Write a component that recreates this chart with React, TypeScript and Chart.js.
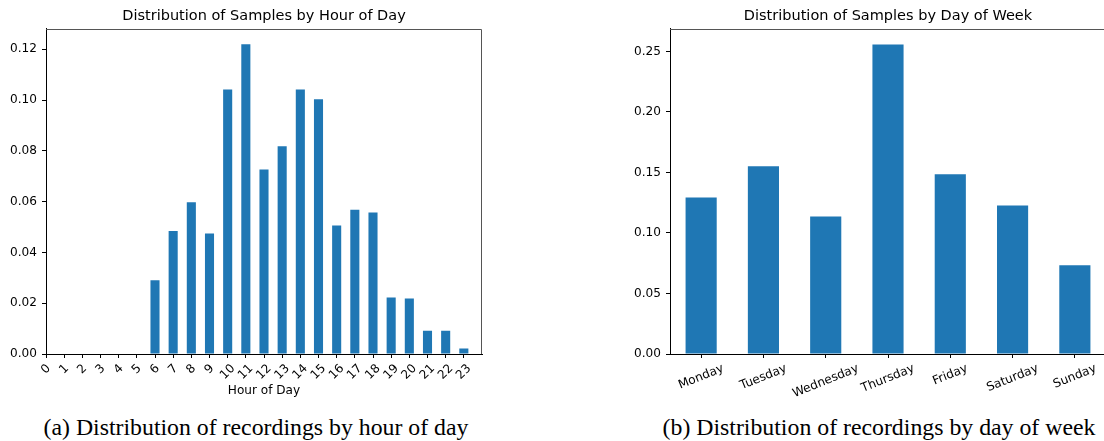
import React, { useEffect, useRef } from 'react';
import { Chart, registerables } from 'chart.js';

Chart.register(...registerables);

// ---- data ----
const hours = [0, 1, 2, 3, 4, 5, 6, 7, 8, 9, 10, 11, 12, 13, 14, 15, 16, 17, 18, 19, 20, 21, 22, 23];
const hourShare = [0, 0, 0, 0, 0, 0, 0.029, 0.0484, 0.0598, 0.0475, 0.1042, 0.122, 0.0727, 0.0818, 0.1042, 0.1003, 0.0506, 0.0568, 0.0557, 0.0223, 0.0219, 0.0092, 0.0092, 0.0022];
const hourYTicks = [0, 0.02, 0.04, 0.06, 0.08, 0.1, 0.12];

const days = ['Monday', 'Tuesday', 'Wednesday', 'Thursday', 'Friday', 'Saturday', 'Sunday'];
const dayShare = [0.1294, 0.1552, 0.1137, 0.2557, 0.1486, 0.1228, 0.0733];
const dayYTicks = [0, 0.05, 0.1, 0.15, 0.2, 0.25];

const hourTitle = 'Distribution of Samples by Hour of Day';
const dayTitle = 'Distribution of Samples by Day of Week';
const hourXTitle = 'Hour of Day';
const captionA = '(a) Distribution of recordings by hour of day';
const captionB = '(b) Distribution of recordings by day of week';

const BLUE = '#1f77b4';
const FONT = '"DejaVu Sans", sans-serif';
const TICK_SIZE = 12.1;
const TITLE_SIZE = 14.5;

function makeXLabels(labels: string[], rotationDeg: number) {
  return {
    id: 'xlabels',
    afterDraw(chart: any) {
      const scale = chart.scales.x;
      const ctx = chart.ctx;
      const f = TICK_SIZE;
      const th = (rotationDeg * Math.PI) / 180;
      const top = chart.chartArea.bottom + 8.4;
      ctx.save();
      ctx.font = `${f}px ${FONT}`;
      ctx.fillStyle = '#000';
      scale.ticks.forEach((_t: any, i: number) => {
        const text = labels[i];
        if (text === undefined) return;
        const x = scale.getPixelForTick(i);
        const w = ctx.measureText(text).width;
        const h = f;
        const H = w * Math.sin(th) + h * Math.cos(th);
        ctx.save();
        ctx.translate(x, top + H / 2);
        ctx.rotate(-th);
        ctx.textAlign = 'center';
        ctx.textBaseline = 'alphabetic';
        ctx.fillText(text, 0, 0.26 * f);
        ctx.restore();
      });
      ctx.restore();
    },
  };
}

const spinesPlugin = {
  id: 'spines',
  afterDraw(chart: any) {
    const { ctx, chartArea: a } = chart;
    ctx.save();
    ctx.strokeStyle = '#555';
    ctx.lineWidth = 1;
    ctx.beginPath();
    const r = Math.round(a.right) - 0.5;
    const t = Math.round(a.top) + 0.5;
    ctx.moveTo(a.left, t);
    ctx.lineTo(r, t);
    ctx.lineTo(r, a.bottom);
    ctx.stroke();
    ctx.restore();
  },
};

function yScale(max: number, ticks: number[], width: number) {
  return {
    min: 0,
    max,
    afterBuildTicks: (s: any) => {
      s.ticks = ticks.map((v) => ({ value: v }));
    },
    ticks: {
      callback: (v: any) => Number(v).toFixed(2),
      font: { family: FONT, size: TICK_SIZE },
      color: '#000',
      padding: 5,
    },
    grid: { drawOnChartArea: false, drawTicks: true, tickLength: 4, color: '#000', lineWidth: 1 },
    border: { display: true, color: '#000', width: 1 },
    afterFit: (s: any) => {
      s.width = width;
    },
  };
}

function titleOpts(text: string) {
  return {
    display: true,
    text,
    fullSize: false,
    color: '#000',
    font: { family: FONT, size: TITLE_SIZE, weight: 'normal' as const },
    padding: { top: 7.8, bottom: 3.3 },
  };
}

export default function App() {
  const hourRef = useRef<HTMLCanvasElement>(null);
  const dayRef = useRef<HTMLCanvasElement>(null);

  useEffect(() => {
    const hourChart = new Chart(hourRef.current as HTMLCanvasElement, {
      type: 'bar',
      data: {
        datasets: [
          {
            data: hours.map((h, i) => ({ x: h, y: hourShare[i] })),
            backgroundColor: BLUE,
            borderWidth: 0,
            categoryPercentage: 1,
            barPercentage: 0.5,
          },
        ],
      },
      options: {
        responsive: false,
        animation: false,
        devicePixelRatio: 1,
        layout: { padding: { left: 0, right: 70, top: 0, bottom: 0 } },
        plugins: {
          legend: { display: false },
          tooltip: { enabled: false },
          title: titleOpts(hourTitle),
        },
        scales: {
          x: {
            type: 'linear',
            offset: false,
            min: 0,
            max: 24,
            afterBuildTicks: (s: any) => {
              s.ticks = hours.map((v) => ({ value: v }));
            },
            ticks: { display: false, stepSize: 1 },
            grid: { offset: false, drawOnChartArea: false, drawTicks: true, tickLength: 4, color: '#000', lineWidth: 1 },
            border: { display: true, color: '#000', width: 1 },
            title: {
              display: true,
              text: hourXTitle,
              color: '#000',
              font: { family: FONT, size: TICK_SIZE },
              padding: { top: 0, bottom: 7 },
            },
            afterFit: (s: any) => {
              s.height = 51;
            },
          },
          y: yScale(0.1282, hourYTicks, 46) as any,
        },
      } as any,
      plugins: [makeXLabels(hours.map(String), 45), spinesPlugin],
    });

    const dayChart = new Chart(dayRef.current as HTMLCanvasElement, {
      type: 'bar',
      data: {
        labels: days,
        datasets: [
          {
            data: dayShare,
            backgroundColor: BLUE,
            borderWidth: 0,
            categoryPercentage: 1,
            barPercentage: 0.5,
          },
        ],
      },
      options: {
        responsive: false,
        animation: false,
        devicePixelRatio: 1,
        layout: { padding: { left: 0, right: 4, top: 0, bottom: 0 } },
        plugins: {
          legend: { display: false },
          tooltip: { enabled: false },
          title: titleOpts(dayTitle),
        },
        scales: {
          x: {
            type: 'category',
            offset: true,
            ticks: { display: false },
            grid: { offset: false, drawOnChartArea: false, drawTicks: true, tickLength: 4, color: '#000', lineWidth: 1 },
            border: { display: true, color: '#000', width: 1 },
            afterFit: (s: any) => {
              s.height = 51;
            },
          },
          y: yScale(0.269, dayYTicks, 70) as any,
        },
      } as any,
      plugins: [makeXLabels(days, 22), spinesPlugin],
    });

    return () => {
      hourChart.destroy();
      dayChart.destroy();
    };
  }, []);

  const captionStyle: React.CSSProperties = {
    position: 'absolute',
    top: 416,
    fontFamily: '"Liberation Serif", "Times New Roman", serif',
    fontSize: 23.8,
    lineHeight: '23.8px',
    color: '#000',
    textAlign: 'center',
    whiteSpace: 'nowrap',
  };

  return (
    <div
      style={{
        position: 'fixed',
        left: 0,
        top: 0,
        width: 1104,
        height: 441,
        overflow: 'hidden',
        background: '#fff',
      }}
    >
      <canvas
        ref={hourRef}
        width={552}
        height={405}
        style={{ position: 'absolute', left: 0, top: 0, width: 552, height: 405 }}
      />
      <canvas
        ref={dayRef}
        width={510}
        height={405}
        style={{ position: 'absolute', left: 600, top: 0, width: 510, height: 405 }}
      />
      <div style={{ ...captionStyle, left: 0, width: 512 }}>{captionA}</div>
      <div style={{ ...captionStyle, left: 629, width: 500 }}>{captionB}</div>
    </div>
  );
}
